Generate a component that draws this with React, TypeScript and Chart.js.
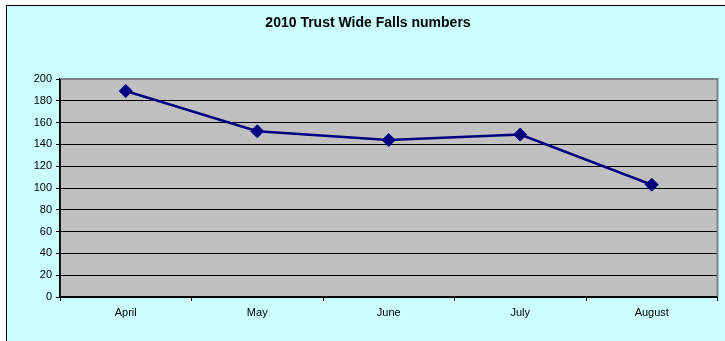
import React, { useEffect, useRef } from "react";
import { Chart, registerables } from "chart.js";

Chart.register(...registerables);

const categories = ["April", "May", "June", "July", "August"];
const fallsValues = [189, 152, 144, 149, 103];
const yTicks = [0, 20, 40, 60, 80, 100, 120, 140, 160, 180, 200];
const chartTitle = "2010 Trust Wide Falls numbers";

const FONT = "'Liberation Sans', Arial, sans-serif";

const plotBgPlugin = {
  id: "plotBg",
  beforeDraw(chart: any) {
    const { ctx, chartArea } = chart;
    ctx.save();
    ctx.fillStyle = "#C0C0C0";
    ctx.fillRect(chartArea.left, chartArea.top, chartArea.right - chartArea.left, chartArea.bottom - chartArea.top);
    ctx.restore();
  },
  beforeDatasetsDraw(chart: any) {
    const { ctx, chartArea } = chart;
    ctx.save();
    ctx.strokeStyle = "#808080";
    ctx.lineWidth = 2;
    ctx.beginPath();
    ctx.moveTo(chartArea.left, chartArea.top);
    ctx.lineTo(chartArea.right, chartArea.top);
    ctx.lineTo(chartArea.right, chartArea.bottom);
    ctx.stroke();
    ctx.strokeStyle = "#000000";
    ctx.lineWidth = 1.5;
    ctx.beginPath();
    ctx.moveTo(chartArea.left, chartArea.top);
    ctx.lineTo(chartArea.left, chartArea.bottom);
    ctx.lineTo(chartArea.right, chartArea.bottom);
    ctx.stroke();
    ctx.restore();
  },
  afterDraw(chart: any) {
    const { ctx } = chart;
    ctx.save();
    ctx.fillStyle = "#000000";
    ctx.font = `bold 14px ${FONT}`;
    ctx.textAlign = "center";
    ctx.textBaseline = "middle";
    ctx.fillText(chartTitle, 368, 23.5);
    ctx.restore();
  },
};

export default function App() {
  const ref = useRef<HTMLCanvasElement | null>(null);
  useEffect(() => {
    if (!ref.current) return;
    const chart = new Chart(ref.current, {
      type: "line",
      data: {
        labels: categories,
        datasets: [
          {
            label: "Falls",
            data: fallsValues,
            borderColor: "#000080",
            backgroundColor: "#000080",
            borderWidth: 2.5,
            pointStyle: "rectRot",
            pointRadius: 6.5,
            pointBorderWidth: 1,
            pointBorderColor: "#000080",
            pointBackgroundColor: "#000080",
            tension: 0,
          },
        ],
      },
      options: {
        animation: false,
        responsive: false,
        maintainAspectRatio: false,
        layout: { padding: { top: 79, right: 5, left: 0, bottom: 0 } },
        plugins: {
          legend: { display: false },
          title: { display: false },
          tooltip: { enabled: false },
        },
        scales: {
          x: {
            offset: true,
            grid: {
              offset: true,
              drawOnChartArea: false,
              drawTicks: true,
              tickLength: 4,
              color: "#000000",
            },
            border: { display: true, color: "#000000", width: 1.5 },
            ticks: { color: "#000000", font: { family: FONT, size: 11 }, padding: 5, maxRotation: 0 },
            afterFit(scale: any) {
              scale.height = 44;
            },
          },
          y: {
            min: 0,
            max: 200,
            afterBuildTicks(scale: any) {
              scale.ticks = yTicks.map((v) => ({ value: v }));
            },
            grid: {
              color: "#000000",
              lineWidth: 1,
              drawTicks: true,
              tickLength: 4,
            },
            border: { display: true, color: "#000000", width: 1.5 },
            ticks: { color: "#000000", font: { family: FONT, size: 11 }, padding: 4 },
            afterFit(scale: any) {
              scale.width = 60;
            },
          },
        },
      },
      plugins: [plotBgPlugin],
    });
    return () => chart.destroy();
  }, []);

  return (
    <div style={{ position: "fixed", left: 0, top: 0, width: 725, height: 341, overflow: "hidden", background: "#ffffff" }}>
      <div
        style={{
          position: "absolute",
          left: 5.5,
          top: 4.5,
          width: 800,
          height: 400,
          borderLeft: "1px solid #000",
          borderTop: "1px solid #000",
          background: "#CCFFFF",
        }}
      />
      <canvas ref={ref} width={725} height={341} style={{ position: "absolute", left: 0, top: 0, width: 725, height: 341 }} />
    </div>
  );
}
